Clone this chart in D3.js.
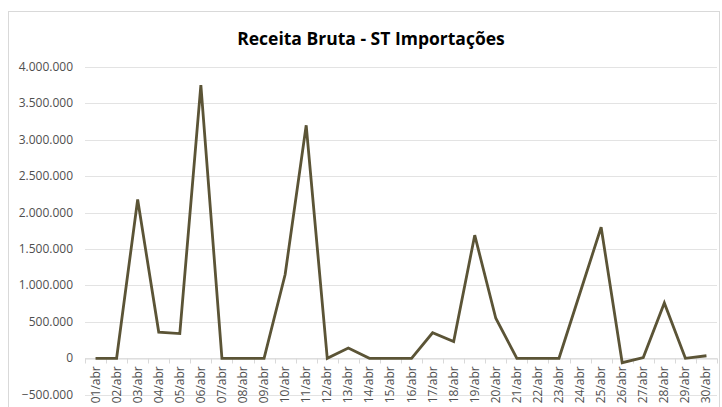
<html>
<head>
<script src="https://cdnjs.cloudflare.com/ajax/libs/d3/7.8.5/d3.min.js"></script>
<meta charset="utf-8">
<title>Receita Bruta - ST Importações</title>
<style>
  body { margin: 0; background: #fff; }
</style>
</head>
<body>
<script type="text/javascript">

	// data
	var days = ["01/abr","02/abr","03/abr","04/abr","05/abr","06/abr","07/abr","08/abr","09/abr","10/abr",
		"11/abr","12/abr","13/abr","14/abr","15/abr","16/abr","17/abr","18/abr","19/abr","20/abr",
		"21/abr","22/abr","23/abr","24/abr","25/abr","26/abr","27/abr","28/abr","29/abr","30/abr"];
	var receita = [0, 0, 2180000, 360000, 340000, 3750000, 0, 0, 0, 1150000,
		3200000, 0, 140000, 0, 0, 0, 350000, 230000, 1690000, 550000,
		0, 0, 0, 900000, 1800000, -60000, 10000, 760000, 0, 35000];
	var yTicks = [-500000, 0, 500000, 1000000, 1500000, 2000000, 2500000, 3000000, 3500000, 4000000];

	var w = 722;
	var h = 407;
	var fontFam = "'Open Sans', 'Noto Sans', sans-serif";

	var svg = d3.select("body")
				.append("svg")
				.attr("width", w)
				.attr("height", h);

	// chart border (bottom is cut off in the original)
	svg.append("rect")
		.attr("x", 8.5)
		.attr("y", 11.5)
		.attr("width", 711)
		.attr("height", 420)
		.attr("fill", "none")
		.attr("stroke", "#d9d9d9");

	var x = d3.scaleBand()
		.domain(days)
		.range([85, 717]);

	var y = d3.scaleLinear()
		.domain([-500000, 4000000])
		.range([394.7, 67]);

	var fmt = d3.formatLocale({decimal: ",", thousands: ".", grouping: [3], currency: ["R$", ""]}).format(",.0f");

	// gridlines
	svg.selectAll("line.grid")
		.data(yTicks)
		.enter()
		.append("line")
		.attr("class", "grid")
		.attr("x1", 85)
		.attr("x2", 717)
		.attr("y1", function(d) { return Math.round(y(d)) + 0.5; })
		.attr("y2", function(d) { return Math.round(y(d)) + 0.5; })
		.attr("stroke", "#e3e3e3")
		.attr("stroke-width", 1);

	// y labels
	svg.selectAll("text.ylab")
		.data(yTicks)
		.enter()
		.append("text")
		.attr("class", "ylab")
		.attr("x", 73)
		.attr("y", function(d) { return y(d) + 4; })
		.attr("text-anchor", "end")
		.attr("font-family", fontFam)
		.attr("font-size", "12px")
		.attr("fill", "#4f4f4f")
		.text(function(d) { return fmt(d); });

	// category axis at zero
	var xAxis = d3.axisBottom(x).tickSize(0).tickFormat("");
	var axisG = svg.append("g")
		.attr("transform", "translate(0," + (Math.round(y(0)) + 0.5) + ")")
		.call(xAxis);
	axisG.select(".domain").attr("stroke", "#d9d9d9");

	// tick marks between categories
	var bounds = days.map(function(d) { return x(d); }).concat([x.range()[1]]);
	axisG.selectAll("line.sep")
		.data(bounds)
		.enter()
		.append("line")
		.attr("class", "sep")
		.attr("x1", function(d) { return Math.round(d) + 0.5; })
		.attr("x2", function(d) { return Math.round(d) + 0.5; })
		.attr("y1", 0)
		.attr("y2", 5)
		.attr("stroke", "#d9d9d9");

	// rotated category labels
	svg.selectAll("text.xlab")
		.data(days)
		.enter()
		.append("text")
		.attr("class", "xlab")
		.attr("transform", function(d) {
			return "translate(" + (x(d) + x.bandwidth() / 2 + 4) + "," + (y(0) + 8) + ") rotate(-90)";
		})
		.attr("text-anchor", "end")
		.attr("font-family", fontFam)
		.attr("font-size", "12px")
		.attr("fill", "#4f4f4f")
		.text(function(d) { return d; });

	// line
	var line = d3.line()
		.x(function(d, i) { return x(days[i]) + x.bandwidth() / 2; })
		.y(function(d) { return y(d); });

	svg.append("path")
		.datum(receita)
		.attr("d", line)
		.attr("fill", "none")
		.attr("stroke", "#5b5436")
		.attr("stroke-width", 2.8)
		.attr("stroke-linejoin", "miter");

	// title
	svg.append("text")
		.attr("x", 371)
		.attr("y", 45)
		.attr("text-anchor", "middle")
		.attr("font-family", fontFam)
		.attr("font-size", "17.5px")
		.attr("font-weight", "bold")
		.attr("fill", "#000")
		.text("Receita Bruta - ST Importações");
</script>
</body>
</html>
